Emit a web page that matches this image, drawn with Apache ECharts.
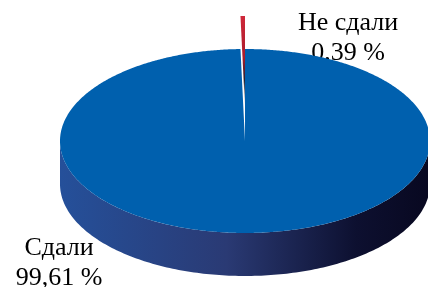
<!DOCTYPE html>
<html>
<head>
<meta charset="utf-8">
<script src="https://cdn.jsdelivr.net/npm/echarts@6/dist/echarts.min.js"></script>
<style>
  html, body { margin: 0; padding: 0; background: #fff; }
  #main { width: 428px; height: 287px; }
</style>
</head>
<body>
<div id="main"></div>
<script>
const categories = ["Сдали", "Не сдали"];
const values = [99.61, 0.39];

const topColors = ["#0060ae", "#c8283c"];

// ellipse geometry of the 3d pie
const cx = 245, cy = 141, rx = 185, ry = 92, depth = 43;
const explode = [0, 33];

const total = values.reduce((a, b) => a + b, 0);
const starts = [];
let acc = 0;
values.forEach((v) => {
  starts.push(acc);
  acc += v;
});

const fmt = (v) => v.toFixed(2).replace(".", ",") + " %";

function rim(a, dy) {
  // a in degrees, clockwise from 12 o'clock
  const r = (a * Math.PI) / 180;
  return [cx + rx * Math.sin(r), cy - ry * Math.cos(r) + dy];
}

function renderItem(params, api) {
  const i = params.dataIndex;
  const a0 = (starts[i] / total) * 360;
  const a1 = ((starts[i] + api.value(0)) / total) * 360;
  const dy = -explode[i];
  const children = [];

  // side wall, only the front half is visible
  const s0 = Math.max(a0, 90), s1 = Math.min(a1, 270);
  if (s1 > s0 && i === 0) {
    const pts = [];
    for (let a = s0; a <= s1; a += 1) pts.push(rim(a, dy));
    for (let a = s1; a >= s0; a -= 1) pts.push(rim(a, dy + depth));
    children.push({
      type: "polygon",
      shape: { points: pts },
      style: {
        fill: new echarts.graphic.LinearGradient(0, 0, 1, 0, [
          { offset: 0, color: "#25509a" },
          { offset: 0.45, color: "#2a3a74" },
          { offset: 0.8, color: "#0d1030" },
          { offset: 1, color: "#080820" },
        ]),
      },
    });
  }

  // top face
  const top = [[cx, cy + dy]];
  if (i === 0) {
    for (let a = a0; a <= a1; a += 0.5) top.push(rim(a, dy));
    top.push(rim(a1, dy));
    children.push({
      type: "polygon",
      shape: { points: top },
      style: { fill: topColors[i] },
    });
  } else {
    top.push(rim(a0, dy));
    top.push(rim(a1, dy));
    children.push({
      type: "polygon",
      shape: { points: top },
      style: {
        fill: new echarts.graphic.LinearGradient(0, 0, 0, 1, [
          { offset: 0, color: "#d0283a" },
          { offset: 0.45, color: "#a81c2c" },
          { offset: 0.7, color: "#202030" },
          { offset: 1, color: "#ffffff" },
        ]),
      },
    });
  }
  return { type: "group", children: children };
}

const chart = echarts.init(document.getElementById("main"));
chart.setOption({
  animation: false,
  series: [
    {
      type: "custom",
      coordinateSystem: "none",
      renderItem: renderItem,
      data: values.map((v, i) => ({ name: categories[i], value: [v] })),
    },
  ],
  graphic: [
    {
      type: "text",
      x: 348,
      y: 8,
      style: {
        text: categories[1] + "\n" + fmt(values[1]),
        font: "26px 'Liberation Serif'",
        fill: "#000",
        align: "center",
        verticalAlign: "top",
        lineHeight: 30,
      },
    },
    {
      type: "text",
      x: 59,
      y: 233,
      style: {
        text: categories[0] + "\n" + fmt(values[0]),
        font: "26px 'Liberation Serif'",
        fill: "#000",
        align: "center",
        verticalAlign: "top",
        lineHeight: 30,
      },
    },
  ],
});
</script>
</body>
</html>
